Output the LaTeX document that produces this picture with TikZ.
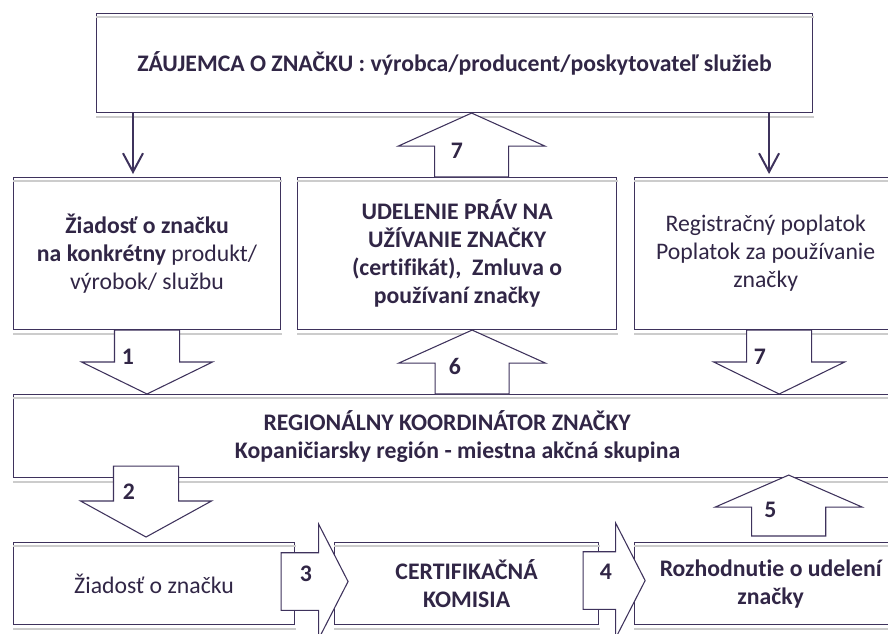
\documentclass[tikz,border=0pt]{standalone}
\usepackage{fontspec}
\setmainfont{Carlito}[Ligatures=NoCommon]
\usetikzlibrary{positioning,calc,arrows.meta}

\definecolor{inkc}{RGB}{49,38,70}
\definecolor{framec}{RGB}{62,50,92}
\definecolor{shadowc}{RGB}{204,204,204}

\tikzset{
  box/.style={draw=framec, line width=0.8pt, fill=white, text=inkc,
    align=center, inner sep=0pt, font=\fontsize{17.8}{21}\selectfont},
  boldbox/.style={box, font=\fontsize{17.8}{21}\selectfont\bfseries},
  bigarrow/.style={draw=framec, line width=0.8pt, fill=white, line join=miter},
  thinarrow/.style={draw=framec, line width=1.5pt,
    -{Straight Barb[length=14pt,width=15pt]}},
  shadowline/.style={draw=shadowc, line width=1.5pt},
  num/.style={text=inkc, inner sep=0pt, font=\fontsize{17.8}{21}\selectfont\bfseries},
}

\newcommand{\blockarrow}[5]{%
  \coordinate (ba-h) at ($(#2)!#5!(#1)$);
  \draw[bigarrow] ($(#1)!#3!90:(#2)$) -- ($(ba-h)!#3!90:(#2)$)
    -- ($(ba-h)!#4!90:(#2)$) -- (#2) -- ($(ba-h)!#4!-90:(#2)$)
    -- ($(ba-h)!#3!-90:(#2)$) -- ($(#1)!#3!-90:(#2)$) -- cycle;
}

\begin{document}
\begin{tikzpicture}[x=0.75pt, y=-0.75pt]
  \clip (0,0) rectangle (888,633);

  \node[boldbox, anchor=north west, minimum width=537pt, minimum height=74.25pt]
    (zaujemca) at (96,13) {ZÁUJEMCA O ZNAČKU : výrobca/producent/poskytovateľ služieb};

  \node[box, anchor=north west, minimum width=200.25pt, minimum height=114pt]
    (ziadost) at (13,177)
    {\textbf{Žiadosť o značku}\\\textbf{na konkrétny} produkt/\\výrobok/ službu};
  \node[boldbox, right=12pt of ziadost, minimum width=239.25pt, minimum height=114pt]
    (udelenie) {UDELENIE PRÁV NA\\UŽÍVANIE ZNAČKY\\(certifikát),~ Zmluva o\\používaní značky};
  \node[box, right=12.75pt of udelenie, minimum width=196.5pt, minimum height=114pt]
    (poplatok) {Registračný poplatok\\Poplatok za používanie\\značky};

  \node[boldbox, anchor=north west, minimum width=658.5pt, minimum height=62.25pt]
    (koord) at (13,394)
    {REGIONÁLNY KOORDINÁTOR ZNAČKY\hspace*{8pt}\\\hspace*{7.5pt}Kopaničiarsky región - miestna akčná skupina};

  \node[box, anchor=north west, minimum width=210.75pt, minimum height=61.5pt]
    (ziadostZ) at (13,542) {Žiadosť o značku};
  \node[boldbox, right=29.25pt of ziadostZ, minimum width=198pt, minimum height=61.5pt]
    (komisia) {CERTIFIKAČNÁ\\KOMISIA};
  \node[boldbox, right=26.25pt of komisia, minimum width=204pt, minimum height=61.5pt]
    (rozhodnutie) {Rozhodnutie o udelení\\značky};

  \foreach \b in {zaujemca,ziadost,udelenie,poplatok,koord,ziadostZ,komisia,rozhodnutie}{
    \draw[shadowline] ($(\b.north west)+(0,3.5)$) -- ($(\b.north east)+(1,3.5)$);
    \draw[shadowline] ($(\b.south west)+(0,4)$) -- ($(\b.south east)+(1,4)$);
  }

  \coordinate (t1) at ($(zaujemca.south west)+(37,0)$);
  \coordinate (t2) at ($(zaujemca.south east)+(-44,0)$);
  \draw[thinarrow] (t1) -- ($(t1 |- ziadost.north)+(0,-3)$);
  \draw[thinarrow] (t2) -- ($(t2 |- poplatok.north)+(0,-3)$);

  % block arrows, numbered steps
  \coordinate (a1s) at (ziadost.south);
  \coordinate (a1e) at (ziadost.south |- koord.north);
  \blockarrow{a1s}{a1e}{24.4pt}{49.1pt}{24pt}

  \coordinate (a7s) at ($(udelenie.north)+(14.5,0)$);
  \coordinate (a7e) at (a7s |- zaujemca.south);
  \blockarrow{a7s}{a7e}{27.8pt}{55.1pt}{24.8pt}

  \coordinate (a6e) at ($(udelenie.south)+(15,0)$);
  \coordinate (a6s) at (a6e |- koord.north);
  \blockarrow{a6s}{a6e}{27.8pt}{55.1pt}{24.8pt}

  \coordinate (b7s) at ($(poplatok.south)+(13.5,0)$);
  \coordinate (b7e) at (b7s |- koord.north);
  \blockarrow{b7s}{b7e}{24.4pt}{49.1pt}{24pt}

  \coordinate (a2s) at ($(koord.south -| ziadost.south)+(-1,-12)$);
  \coordinate (a2e) at ($(a2s |- ziadostZ.north)+(0,-5)$);
  \blockarrow{a2s}{a2e}{24.4pt}{49.1pt}{27pt}

  \coordinate (a5s) at ($(rozhodnutie.north)+(18,-6)$);
  \coordinate (a5e) at ($(a5s |- koord.south)+(0,-3)$);
  \blockarrow{a5s}{a5e}{27.8pt}{55.1pt}{24pt}

  \coordinate (a3s) at ($(ziadostZ.east)+(-14,-2)$);
  \coordinate (a3e) at ($(a3s -| komisia.west)+(14,0)$);
  \blockarrow{a3s}{a3e}{21.6pt}{43.1pt}{22.1pt}

  \coordinate (a4s) at ($(komisia.east)+(-16,-3)$);
  \coordinate (a4e) at ($(a4s -| rozhodnutie.west)+(11,0)$);
  \blockarrow{a4s}{a4e}{21.6pt}{43.1pt}{22.1pt}

  \node[num] (n1) at (128,357) {1};
  \node[num] (n7a) at (457,151) {7};
  \node[num] (n6) at (455,366) {6};
  \node[num] (n7b) at (760,357) {7};
  \node[num] (n2) at (129,492) {2};
  \node[num] (n5) at (770.5,510) {5};
  \node[num] (n3) at (306,574) {3};
  \node[num] (n4) at (606,572) {4};
\end{tikzpicture}
\end{document}
